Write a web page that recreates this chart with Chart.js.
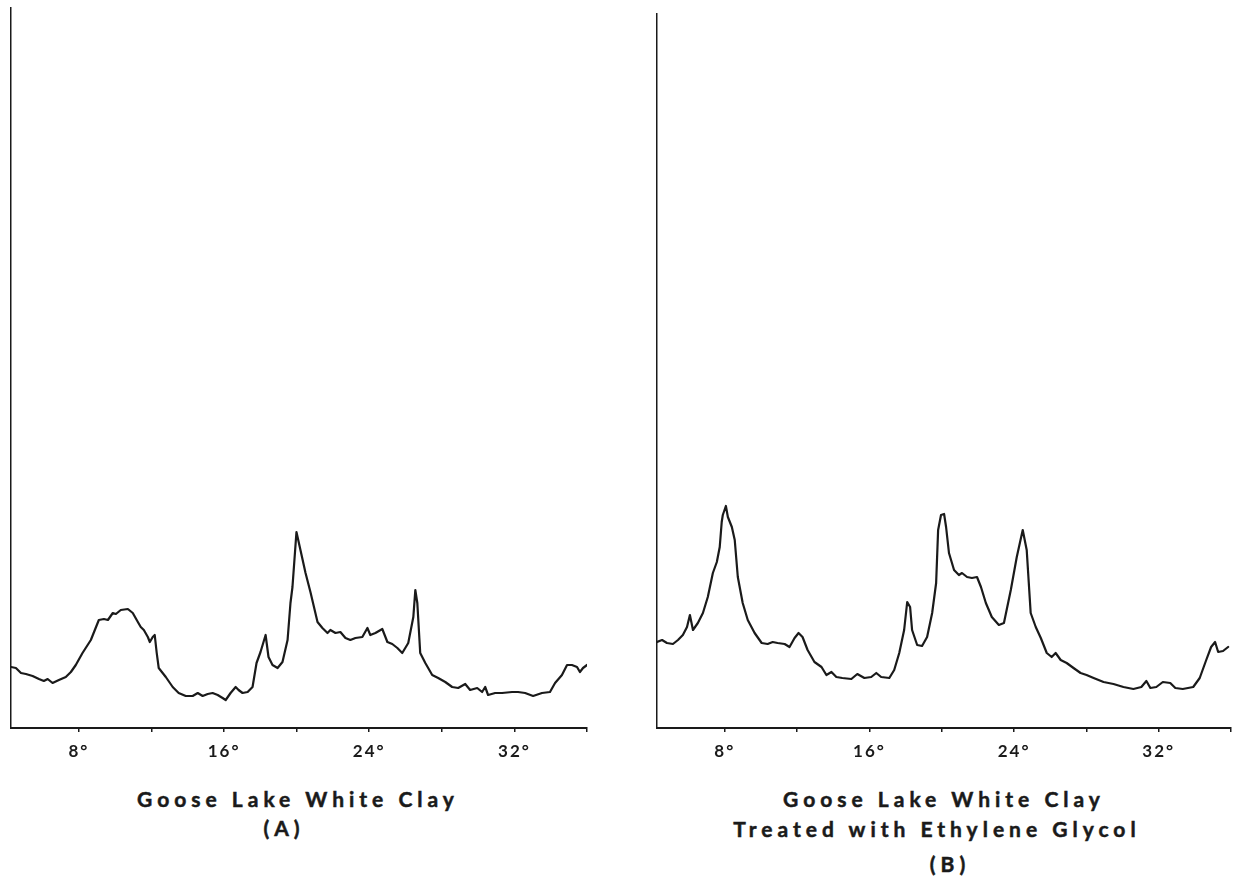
<!DOCTYPE html>
<html>
<head>
<meta charset="utf-8">
<title>Goose Lake White Clay – X-ray diffraction</title>
<script src="https://cdn.jsdelivr.net/npm/chart.js@4.4.1/dist/chart.umd.min.js"></script>
<style>
  html, body { margin: 0; padding: 0; background: #fff; }
  #wrap { position: relative; width: 1240px; height: 886px; overflow: hidden; background: #fff; }
  canvas { position: absolute; top: 0; }
  #chartA { left: 0; }
  #chartB { left: 620px; }
  .cap {
    position: absolute; width: 500px; text-align: center; white-space: nowrap;
    font-family: Lato, "Open Sans", sans-serif; font-weight: 700; font-size: 21px;
    letter-spacing: 5px; color: #1a1a1a; line-height: 22px;
    -webkit-text-stroke: 0.5px #1a1a1a;
  }
</style>
</head>
<body>
<div id="wrap">
  <canvas id="chartA" width="620" height="780"></canvas>
  <canvas id="chartB" width="620" height="780"></canvas>
  <div class="cap" style="left:48px; top:788px;">Goose Lake White Clay</div>
  <div class="cap" style="left:34px; top:817px;">(A)</div>
  <div class="cap" style="left:694px; top:788px;">Goose Lake White Clay</div>
  <div class="cap" style="left:687px; top:818px;">Treated with Ethylene Glycol</div>
  <div class="cap" style="left:700px; top:853px;">(B)</div>
</div>
<script>
// Diffraction angle (2θ, degrees) and recorded intensity (chart units)
const angleA = [4.26,4.53,4.81,5.08,5.45,5.80,6.07,6.28,6.55,6.90,7.28,7.56,7.83,8.20,8.66,9.10,9.38,9.60,9.87,10.04,
  10.31,10.70,10.97,11.25,11.41,11.58,11.80,11.91,12.07,12.18,12.29,12.40,12.79,13.17,13.50,13.89,14.27,14.55,14.82,15.10,
  15.37,15.65,15.92,16.09,16.36,16.64,16.80,17.02,17.30,17.57,17.79,18.01,18.29,18.45,18.67,18.95,19.22,19.50,19.66,19.77,
  19.99,20.21,20.49,20.76,21.15,21.42,21.70,21.86,22.14,22.41,22.69,22.96,23.24,23.62,23.90,24.06,24.34,24.72,25.00,25.27,
  25.55,25.82,26.15,26.43,26.54,26.65,26.81,27.09,27.47,27.80,28.19,28.57,28.90,29.29,29.56,29.95,30.22,30.39,30.55,30.94,
  31.32,31.87,32.20,32.59,33.03,33.52,33.96,34.24,34.62,34.90,35.17,35.45,35.61,35.78,36.00];
const countsA = [61,60,55,54,52,49,47,49,45,48,51,56,63,75,88,108,109,108,115,114,
  118,119,115,106,101,98,91,86,91,93,75,60,51,41,35,32,32,35,32,34,
  35,33,30,28,35,41,38,35,36,41,65,76,93,71,63,60,66,88,125,141,
  196,178,155,136,106,100,95,98,95,96,90,88,90,91,100,93,95,99,86,84,
  80,75,85,111,138,125,75,65,53,50,46,41,40,44,38,40,36,41,33,35,
  35,36,36,35,32,35,36,45,53,63,63,61,56,60,63];

const angleB = [4.25,4.53,4.80,5.13,5.41,5.68,5.91,6.07,6.24,6.51,6.79,7.06,7.34,7.56,7.72,7.83,7.89,8.06,8.17,8.39,
  8.55,8.72,8.99,9.27,9.65,10.04,10.37,10.65,10.92,11.31,11.58,11.86,12.08,12.30,12.58,12.96,13.35,13.62,13.90,14.17,
  14.50,15.00,15.33,15.72,16.10,16.38,16.65,17.10,17.37,17.65,17.92,18.09,18.25,18.36,18.64,18.91,19.19,19.47,19.69,19.80,
  19.96,20.13,20.24,20.40,20.68,20.95,21.12,21.40,21.67,21.95,22.17,22.44,22.77,23.16,23.44,23.82,24.15,24.48,24.70,24.92,
  25.20,25.48,25.81,26.08,26.30,26.58,26.91,27.29,27.68,28.01,28.40,28.95,29.50,30.05,30.60,31.04,31.32,31.54,31.87,32.23,
  32.64,32.92,33.33,33.91,34.27,34.63,34.90,35.12,35.29,35.56,35.84];
const countsB = [86,88,85,84,88,93,101,113,98,105,115,131,155,166,181,206,213,222,211,201,
  188,151,125,108,95,85,84,86,85,84,81,90,95,91,78,66,61,53,56,51,
  50,49,54,50,51,55,51,50,58,75,98,126,121,98,83,82,91,115,145,198,
  213,214,201,175,158,153,155,151,150,151,141,125,111,103,105,138,171,198,178,115,
  101,90,75,71,75,68,65,60,55,53,50,46,44,41,39,41,47,40,41,46,
  45,40,39,41,50,68,81,86,76,77,81];

// Axis labelling
const labelledAngles = [8, 16, 24, 32];
const tickLabels = ['8°', '16°', '24°', '32°'];

const INK = '#1a1a1a';
const FONT = 'Lato, "Open Sans", sans-serif';

// widen the lettering of the angle labels
const letterSpacing = {
  id: 'letterSpacing',
  beforeDraw(chart) { chart.ctx.letterSpacing = '2px'; },
  afterDraw(chart) { chart.ctx.letterSpacing = '0px'; }
};

function makeTrace(canvasId, angles, counts, pad, xMin, yMax) {
  const points = angles.map((a, i) => ({ x: a, y: counts[i] }));
  return new Chart(document.getElementById(canvasId), {
    type: 'line',
    data: {
      datasets: [{
        data: points,
        borderColor: INK,
        borderWidth: 2.2,
        borderJoinStyle: 'round',
        borderCapStyle: 'round',
        pointRadius: 0,
        tension: 0,
        fill: false
      }]
    },
    options: {
      responsive: false,
      animation: false,
      events: [],
      layout: { padding: pad },
      plugins: { legend: { display: false }, tooltip: { enabled: false }, title: { display: false } },
      scales: {
        x: {
          type: 'linear',
          min: xMin,
          max: 36,
          afterFit(scale) { scale.height = 52; },
          border: { display: true, color: INK, width: 2 },
          grid: { drawOnChartArea: false, drawTicks: true, tickLength: 4, color: INK, lineWidth: 1.5 },
          ticks: {
            stepSize: 4,
            includeBounds: false,
            autoSkip: false,
            maxRotation: 0,
            padding: 9,
            color: INK,
            font: { family: FONT, weight: '700', size: 17 },
            callback(value) {
              const k = labelledAngles.indexOf(value);
              return k >= 0 ? tickLabels[k] : '';
            }
          }
        },
        y: {
          type: 'linear',
          min: 0,
          max: yMax,
          afterFit(scale) { scale.width = 0; },
          border: { display: true, color: INK, width: 1.5 },
          grid: { display: false, drawTicks: false },
          ticks: { display: false }
        }
      }
    },
    plugins: [letterSpacing]
  });
}

makeTrace('chartA', angleA, countsA, { left: 11, right: 33, top: 8, bottom: 0 }, 4.26, 720);
makeTrace('chartB', angleB, countsB, { left: 37, right: 7, top: 14, bottom: 0 }, 4.25, 714);
</script>
</body>
</html>
